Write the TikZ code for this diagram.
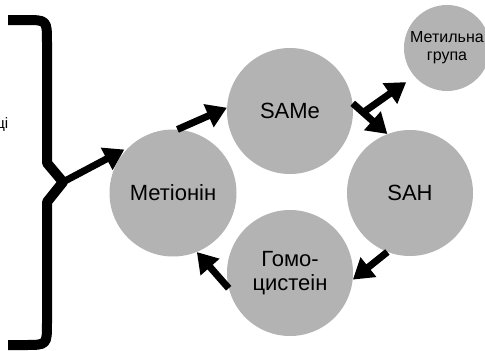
\documentclass[tikz,border=0pt]{standalone}
\usepackage{fontspec}
\setmainfont{Liberation Sans}
\usetikzlibrary{arrows.meta,calc}
\definecolor{circgray}{RGB}{179,179,179}
\begin{document}
\begin{tikzpicture}[x=1pt,y=-1pt,
  blob/.style={circle,fill=circgray,inner sep=0pt,align=center,font=\fontsize{22}{24.5}\selectfont},
  arr/.style={line width=7pt,-{Triangle[length=20pt,width=24pt]}},
  bracestyle/.style={line width=10pt,line join=round},
]
\useasboundingbox (0,0) rectangle (485,351);
\node[blob,minimum size=127pt] (met) at (173,193) {Метіонін};
\node[blob,minimum size=126pt] (same) at (290,111) {SAMe};
\node[blob,minimum size=126pt] (sah) at (410,193) {SAH};
\node[blob,minimum size=126pt] (homo) at (290,273) {Гомо-\\цистеін};
\node[blob,minimum size=86pt,font=\fontsize{16}{18}\selectfont] (methyl) at (447,48) {Метильна\\група};
\node[anchor=base east,font=\fontsize{15}{18}\selectfont,inner sep=0pt] (src) at (8.5,128) {ці};
% brace
\coordinate (cusp) at (63,182);
\draw[bracestyle] (8,20) -- (25,20) .. controls (47,20) .. (47,42) -- (47,163) -- (cusp)
  -- (47,202) -- (47,323) .. controls (47,345) .. (25,345) -- (8,345);
\draw[arr,shorten >=5pt] (cusp) -- (met.134);
\draw[arr] (met.86) -- (same.177);
\draw[arr] (same.7) -- (sah.111);
\coordinate (branch) at ($(same.7)!0.3!(sah.111)$);
\draw[arr,shorten >=10pt] (branch) -- (methyl.221);
\draw[arr] (sah.249) -- (homo.354);
\draw[arr] (homo.194) -- (met.292);
\end{tikzpicture}
\end{document}
